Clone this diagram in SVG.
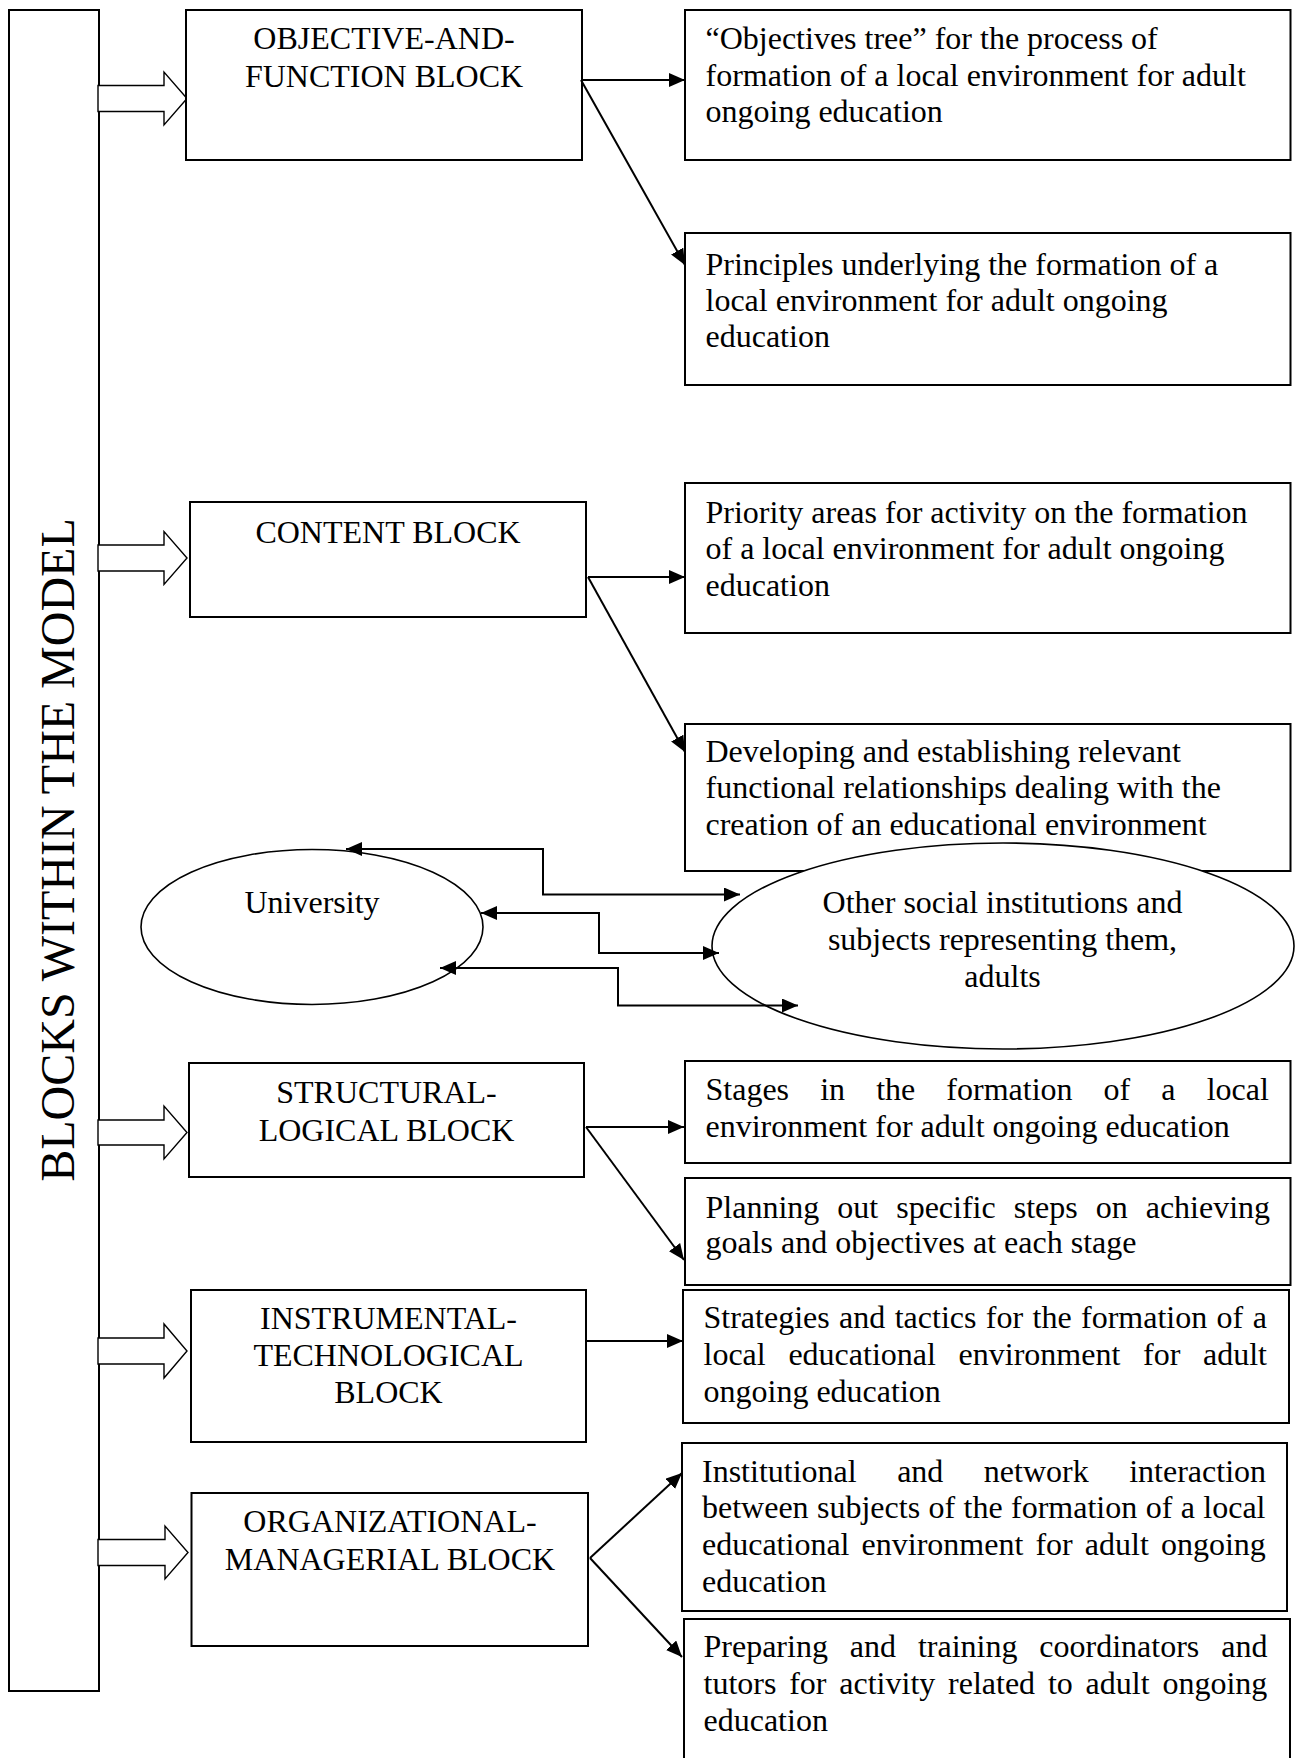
<svg xmlns="http://www.w3.org/2000/svg" width="1295" height="1758" viewBox="0 0 1295 1758">
<style>
text{font-family:"Liberation Serif","Times New Roman",serif;font-size:32px;fill:#000}
.box{fill:#fff;stroke:#000;stroke-width:2}
.ell{fill:#fff;stroke:#000;stroke-width:1.6}
.c{text-anchor:middle}
.hollow{fill:#fff;stroke:#000;stroke-width:1.4;stroke-linejoin:miter}
.conn{fill:none;stroke:#000;stroke-width:2}
.arr{marker-end:url(#ah)}
.dbl{marker-start:url(#ah);marker-end:url(#ah)}
</style>
<defs>
<marker id="ah" markerUnits="userSpaceOnUse" markerWidth="16" markerHeight="14" refX="16" refY="7" orient="auto-start-reverse" viewBox="0 0 16 14">
<path d="M0,0 L16,7 L0,14 z" fill="#000"/>
</marker>
</defs>
<rect width="1295" height="1758" fill="#fff"/>

<g id="model-bar">
<rect class="box" x="9" y="10" width="90" height="1681"/>
<text transform="translate(74,850) rotate(-90)" class="c" style="font-size:48px">BLOCKS WITHIN THE MODEL</text>
</g>

<g id="hollow-arrows">
<polygon class="hollow" points="98,85.5 164,85.5 164,72 187,98.5 164,125 164,111.5 98,111.5"/>
<polygon class="hollow" points="98,545 164,545 164,531.5 187,558 164,584.5 164,571 98,571"/>
<polygon class="hollow" points="98,1120 164,1120 164,1106 187,1132.5 164,1159 164,1145 98,1145"/>
<polygon class="hollow" points="98,1338 164,1338 164,1324 187,1351 164,1378 164,1364 98,1364"/>
<polygon class="hollow" points="98,1539.5 165,1539.5 165,1526 188,1552.5 165,1579 165,1565.5 98,1565.5"/>
</g>

<g id="objective-block">
<rect class="box" x="186" y="10" width="396" height="150"/>
<text class="c" x="384" y="49">OBJECTIVE-AND-</text>
<text class="c" x="384" y="86.5">FUNCTION BLOCK</text>
</g>
<g id="content-block">
<rect class="box" x="190" y="502" width="396" height="115"/>
<text class="c" x="388" y="543">CONTENT BLOCK</text>
</g>
<g id="structural-block">
<rect class="box" x="189" y="1063" width="395" height="114"/>
<text class="c" x="386.5" y="1103">STRUCTURAL-</text>
<text class="c" x="386.5" y="1141">LOGICAL BLOCK</text>
</g>
<g id="instrumental-block">
<rect class="box" x="191" y="1290" width="395" height="152"/>
<text class="c" x="388.5" y="1329">INSTRUMENTAL-</text>
<text class="c" x="388.5" y="1366">TECHNOLOGICAL</text>
<text class="c" x="388.5" y="1403">BLOCK</text>
</g>
<g id="organizational-block">
<rect class="box" x="191.5" y="1493" width="396.5" height="153"/>
<text class="c" x="390" y="1532">ORGANIZATIONAL-</text>
<text class="c" x="390" y="1570">MANAGERIAL BLOCK</text>
</g>

<g id="objectives-tree">
<rect class="box" x="685" y="10" width="605.5" height="150"/>
<text x="705.5" y="49">“Objectives tree” for the process of</text>
<text x="705.5" y="86">formation of a local environment for adult</text>
<text x="705.5" y="122">ongoing education</text>
</g>
<g id="principles">
<rect class="box" x="685" y="233" width="605.5" height="152"/>
<text x="705.5" y="275">Principles underlying the formation of a</text>
<text x="705.5" y="311">local environment for adult ongoing</text>
<text x="705.5" y="347">education</text>
</g>
<g id="priority-areas">
<rect class="box" x="685" y="483" width="605.5" height="150"/>
<text x="705.5" y="523">Priority areas for activity on the formation</text>
<text x="705.5" y="559">of a local environment for adult ongoing</text>
<text x="705.5" y="596">education</text>
</g>
<g id="relationships">
<rect class="box" x="685" y="724" width="605.5" height="147"/>
<text x="705.5" y="762">Developing and establishing relevant</text>
<text x="705.5" y="798">functional relationships dealing with the</text>
<text x="705.5" y="835">creation of an educational environment</text>
</g>
<g id="stages">
<rect class="box" x="685" y="1061" width="605.5" height="102"/>
<text x="705.5" y="1100" style="word-spacing:23.1px">Stages in the formation of a local</text>
<text x="705.5" y="1137">environment for adult ongoing education</text>
</g>
<g id="planning">
<rect class="box" x="685" y="1178" width="605.5" height="107"/>
<text x="705.5" y="1218" style="word-spacing:10px">Planning out specific steps on achieving</text>
<text x="705.5" y="1253">goals and objectives at each stage</text>
</g>
<g id="strategies">
<rect class="box" x="683" y="1290" width="606" height="133"/>
<text x="703.5" y="1328" style="word-spacing:1.4px">Strategies and tactics for the formation of a</text>
<text x="703.5" y="1365" style="word-spacing:14.7px">local educational environment for adult</text>
<text x="703.5" y="1402">ongoing education</text>
</g>
<g id="institutional">
<rect class="box" x="682" y="1443" width="605" height="168"/>
<text x="702" y="1482" style="word-spacing:32.5px">Institutional and network interaction</text>
<text x="702" y="1518" style="word-spacing:0.4px">between subjects of the formation of a local</text>
<text x="702" y="1555" style="word-spacing:4.1px">educational environment for adult ongoing</text>
<text x="702" y="1592">education</text>
</g>
<g id="preparing">
<rect class="box" x="684" y="1619" width="606" height="145"/>
<text x="703.5" y="1657" style="word-spacing:13.9px">Preparing and training coordinators and</text>
<text x="703.5" y="1694" style="word-spacing:4.8px">tutors for activity related to adult ongoing</text>
<text x="703.5" y="1731">education</text>
</g>

<g id="university">
<ellipse class="ell" cx="312" cy="927" rx="171" ry="77.5"/>
<text class="c" x="312" y="912.5">University</text>
</g>
<g id="other-institutions">
<ellipse class="ell" cx="1003" cy="946" rx="291" ry="103"/>
<text class="c" x="1002.5" y="912.5">Other social institutions and</text>
<text class="c" x="1002.5" y="950">subjects representing them,</text>
<text class="c" x="1002.5" y="987">adults</text>
</g>

<g id="connectors">
<line class="conn arr" x1="581" y1="80" x2="685" y2="80"/>
<line class="conn arr" x1="581" y1="80" x2="685" y2="265"/>
<line class="conn arr" x1="588" y1="577" x2="685" y2="577"/>
<line class="conn arr" x1="588" y1="577" x2="685" y2="752"/>
<line class="conn arr" x1="586" y1="1127" x2="684" y2="1127"/>
<line class="conn arr" x1="586" y1="1127" x2="684" y2="1260"/>
<line class="conn arr" x1="586" y1="1341" x2="683" y2="1341"/>
<line class="conn arr" x1="590" y1="1558" x2="682" y2="1473"/>
<line class="conn arr" x1="590" y1="1558" x2="682" y2="1657"/>
<path class="conn dbl" d="M346,849 H543 V894.5 H740"/>
<path class="conn dbl" d="M481,913 H599 V953 H719"/>
<path class="conn dbl" d="M440,968 H618 V1005.5 H798"/>
</g>
</svg>
